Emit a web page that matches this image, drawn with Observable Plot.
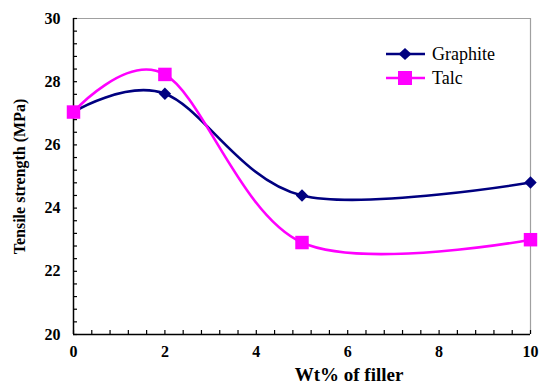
<!DOCTYPE html>
<html><head><meta charset="utf-8">
<script src="https://cdn.jsdelivr.net/npm/d3@7"></script>
<script src="https://cdn.jsdelivr.net/npm/@observablehq/plot@0.6"></script>
<style>
body{margin:0;background:#fff;}
#wrap{position:relative;width:539px;height:387px;}
#legend{position:absolute;left:386px;top:42px;font-size:18px;color:#000;}
.row{display:flex;align-items:center;height:24px;}
.row svg{margin-right:7px;}
#wrap, #wrap *, #wrap text, #legend span{font-family:'Liberation Serif' !important;}
</style></head><body><div id="wrap"><div id="legend"></div></div>
<script>
const filler = [0, 2, 5, 10];
const graphite = [27.04, 27.62, 24.40, 24.81];
const talc = [27.04, 28.23, 22.91, 23.00];
const seriesNames = ["Graphite", "Talc"];
const seriesColors = ["#000080", "#FF00FF"];
const seriesSymbols = ["diamond2", "square"];
const xTicks = [0, 2, 4, 6, 8, 10];
const yTicks = [20, 22, 24, 26, 28, 30];
const xMinor = d3.range(0, 10.001, 0.4);
const yMinor = d3.range(20, 30.001, 0.4);
const xLabel = "Wt% of filler";
const yLabel = "Tensile strength (MPa)";
const FONT = "'Liberation Serif'";

const rows = [];
[graphite, talc].forEach((vals, s) => filler.forEach((x, i) => rows.push({x, y: vals[i], series: seriesNames[s]})));

const chart = Plot.plot({
  width: 539, height: 387,
  marginLeft: 73, marginRight: 9, marginTop: 18, marginBottom: 53,
  style: {fontWeight: "bold", fontSize: "16px", background: "#fff", color: "#000"},
  x: {domain: [0, 10]},
  y: {domain: [20, 30]},
  marks: [
    Plot.ruleY([30], {stroke: "#a0a0a0", strokeWidth: 1.2}),
    Plot.ruleX([10], {stroke: "#a0a0a0", strokeWidth: 1.2}),
    Plot.axisX({ticks: xMinor, tickSize: 4, dy: -4, tickFormat: () => "", label: null, stroke: "#000", strokeWidth: 1.2}),
    Plot.axisY({ticks: yMinor, tickSize: 4, dx: 4, tickFormat: () => "", label: null, stroke: "#000", strokeWidth: 1.2}),
    Plot.axisX({ticks: xTicks, tickSize: 0, tickPadding: 11, label: null, fontSize: 16}),
    Plot.axisY({ticks: yTicks, tickSize: 0, tickPadding: 13, label: null, fontSize: 16}),
    Plot.ruleY([20], {stroke: "#000", strokeWidth: 1.5}),
    Plot.ruleX([0], {stroke: "#000", strokeWidth: 1.5}),
    Plot.text([xLabel], {frameAnchor: "bottom", textAnchor: "middle", dy: 46, dx: 47, fontSize: 19}),
    Plot.text([yLabel], {frameAnchor: "left", textAnchor: "middle", rotate: -90, dx: -54, fontSize: 16}),
    Plot.line(rows, {x: "x", y: "y", z: "series", stroke: d => seriesColors[seriesNames.indexOf(d.series)], curve: "cardinal", strokeWidth: 2.6}),
    Plot.dot(rows.filter(d => d.series === "Graphite"), {x: "x", y: "y", fill: seriesColors[0], symbol: "diamond2", r: 5.6, stroke: null}),
    Plot.dot(rows.filter(d => d.series === "Talc"), {x: "x", y: "y", fill: seriesColors[1], symbol: "square", r: 7.6, stroke: null})
  ]
});
chart.setAttribute("font-family", "Liberation Serif");
chart.style.setProperty("font-family", FONT, "important");
chart.querySelectorAll("text, tspan, g").forEach(t => { t.setAttribute("font-family", "Liberation Serif"); t.style.setProperty("font-family", FONT, "important"); });
document.getElementById("wrap").prepend(chart);

const lg = document.getElementById("legend");
lg.style.setProperty("font-family", FONT, "important");
seriesNames.forEach((name, i) => {
  const row = document.createElement("div");
  row.className = "row";
  const marker = seriesSymbols[i] === "square"
    ? `<rect x="12" y="5" width="14" height="14" fill="${seriesColors[i]}"/>`
    : `<path d="M19,6 L25.5,12 L19,18 L12.5,12 Z" fill="${seriesColors[i]}"/>`;
  row.innerHTML = `<svg width="39" height="24"><line x1="0" x2="39" y1="12" y2="12" stroke="${seriesColors[i]}" stroke-width="2.6"/>${marker}</svg><span style="font-family:'Liberation Serif' !important">${name}</span>`;
  lg.appendChild(row);
});
</script>
</body></html>
